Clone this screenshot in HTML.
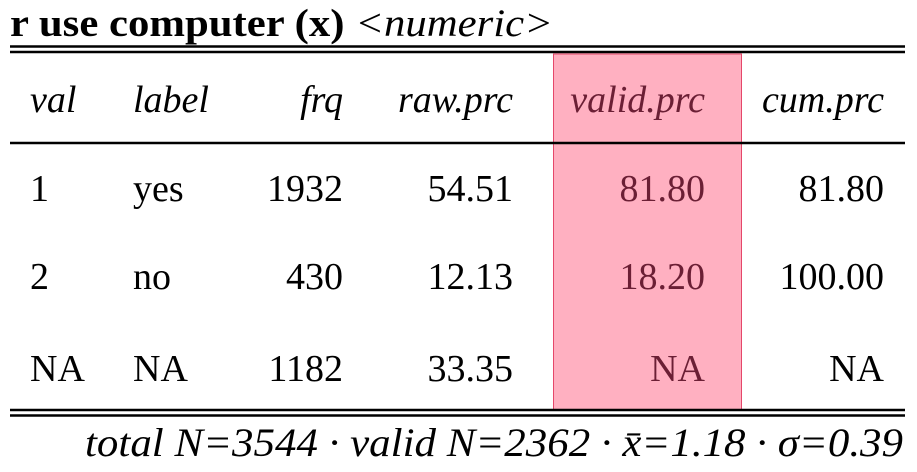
<!DOCTYPE html>
<html><head><meta charset="utf-8"><style>
html,body{margin:0;padding:0;background:#fff;width:917px;height:472px;overflow:hidden}
svg{display:block;font-family:"Liberation Serif",serif}
</style></head><body>
<svg width="917" height="472" viewBox="0 0 917 472">
<text x="10" y="36" font-size="39" font-weight="bold" textLength="543" lengthAdjust="spacingAndGlyphs">r use computer (x) <tspan font-weight="normal" font-style="italic">&lt;numeric&gt;</tspan></text>
<rect x="553.5" y="54" width="188" height="356" fill="#ffb0c1" stroke="#e5476a" stroke-width="1"/>
<line x1="10" x2="905" y1="46.5" y2="46.5" stroke="#000" stroke-width="2.5"/>
<line x1="10" x2="905" y1="52" y2="52" stroke="#000" stroke-width="2.5"/>
<line x1="10" x2="905" y1="143" y2="143" stroke="#000" stroke-width="2.5"/>
<line x1="10" x2="905" y1="410" y2="410" stroke="#000" stroke-width="2.5"/>
<line x1="10" x2="905" y1="415.5" y2="415.5" stroke="#000" stroke-width="2.5"/>
<g font-size="38" font-style="italic">
<text x="30" y="112">val</text>
<text x="133" y="112">label</text>
<text x="343" y="112" text-anchor="end">frq</text>
<text x="513" y="112" text-anchor="end">raw.prc</text>
<text x="705" y="112" text-anchor="end" fill="#6b1f35">valid.prc</text>
<text x="884" y="112" text-anchor="end">cum.prc</text>
</g>
<g font-size="38">
<text x="30" y="201">1</text><text x="133" y="201">yes</text>
<text x="343" y="201" text-anchor="end">1932</text><text x="513" y="201" text-anchor="end">54.51</text>
<text x="705" y="201" text-anchor="end" fill="#6b1f35">81.80</text><text x="884" y="201" text-anchor="end">81.80</text>
</g>
<g font-size="38">
<text x="30" y="289">2</text><text x="133" y="289">no</text>
<text x="343" y="289" text-anchor="end">430</text><text x="513" y="289" text-anchor="end">12.13</text>
<text x="705" y="289" text-anchor="end" fill="#6b1f35">18.20</text><text x="884" y="289" text-anchor="end">100.00</text>
</g>
<g font-size="38">
<text x="30" y="381">NA</text><text x="133" y="381">NA</text>
<text x="343" y="381" text-anchor="end">1182</text><text x="513" y="381" text-anchor="end">33.35</text>
<text x="705" y="381" text-anchor="end" fill="#6b1f35">NA</text><text x="884" y="381" text-anchor="end">NA</text>
</g>
<text x="85" y="456" font-size="40" font-style="italic" textLength="818" lengthAdjust="spacingAndGlyphs">total N=3544 · valid N=2362 · x̄=1.18 · σ=0.39</text>
</svg>
</body></html>
